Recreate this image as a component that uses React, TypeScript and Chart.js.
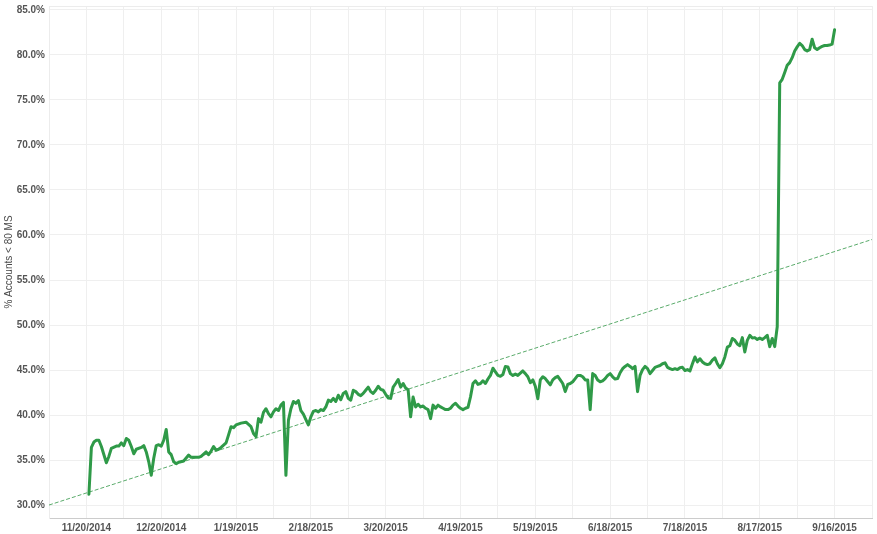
import React, { useEffect, useRef } from "react";
import { Chart, registerables } from "chart.js";

Chart.register(...registerables);

// Day offsets from 11/20/2014
const dayOffsets = [
  1, 2, 3, 4, 5, 6, 8, 9, 10, 12, 13, 14, 15, 16, 17, 18, 19, 20, 22, 23,
  24, 25, 26, 27, 28, 29, 30, 31, 32, 33, 34, 35, 36, 37, 39, 41, 42, 43, 45, 46,
  48, 49, 50, 51, 52, 53, 54, 56, 57, 58, 59, 60, 62, 64, 66, 67, 68, 69, 70, 71,
  72, 73, 74, 75, 76, 77, 78, 79, 80, 81, 82, 83, 84, 85, 86, 87, 88, 89, 90, 91,
  92, 93, 94, 95, 96, 97, 98, 99, 100, 101, 102, 103, 104, 105, 106, 107, 108, 109, 110, 111,
  112, 113, 114, 115, 116, 117, 118, 119, 120, 121, 122, 123, 124, 125, 126, 127, 128, 129, 130, 131,
  132, 133, 134, 135, 136, 137, 138, 139, 140, 141, 142, 143, 144, 145, 146, 147, 148, 149, 150, 151,
  152, 153, 154, 155, 156, 157, 158, 159, 160, 161, 162, 163, 164, 165, 166, 167, 168, 169, 170, 171,
  172, 173, 174, 175, 176, 177, 178, 179, 180, 181, 182, 183, 184, 185, 186, 187, 188, 189, 190, 191,
  192, 193, 194, 195, 196, 197, 198, 199, 200, 201, 202, 203, 204, 205, 206, 207, 208, 209, 210, 211,
  212, 213, 214, 215, 216, 217, 218, 219, 220, 221, 222, 223, 224, 225, 226, 227, 228, 229, 230, 231,
  232, 233, 234, 235, 236, 237, 238, 239, 240, 241, 242, 243, 244, 245, 246, 247, 248, 249, 250, 251,
  252, 253, 254, 255, 256, 257, 258, 259, 260, 261, 262, 263, 264, 265, 266, 267, 268, 269, 270, 271,
  272, 273, 274, 275, 276, 277, 278, 279, 280, 281, 282, 283, 284, 285, 286, 287, 288, 289, 290, 291,
  292, 293, 294, 295, 296, 297, 298, 299, 300,
];

const accountsPct = [
  31.2, 36.4, 37.0, 37.2, 37.2, 36.5, 34.7, 35.4, 36.3, 36.55, 36.55, 36.9, 36.6, 37.4, 37.2, 36.5, 35.7, 36.2, 36.4, 36.6,
  35.9, 34.8, 33.3, 35.2, 36.6, 36.7, 36.55, 37.2, 38.4, 35.9, 35.6, 34.8, 34.6, 34.75, 34.9, 35.55, 35.3, 35.3, 35.3, 35.4,
  35.9, 35.6, 36.0, 36.5, 36.1, 36.2, 36.4, 36.9, 37.8, 38.7, 38.6, 38.9, 39.1, 39.2, 38.7, 37.95, 37.6, 39.6, 39.2, 40.3,
  40.7, 40.15, 39.8, 40.35, 40.7, 40.5, 41.1, 41.4, 33.3, 39.4, 40.7, 41.5, 41.3, 41.6, 40.5, 40.1, 39.5, 38.9, 39.8, 40.4,
  40.5, 40.35, 40.6, 40.5, 40.9, 41.65, 41.5, 41.85, 41.5, 42.2, 41.7, 42.4, 42.6, 41.85, 41.65, 42.75, 42.6, 42.3, 42.15, 42.4,
  42.75, 43.1, 42.6, 42.4, 42.75, 43.2, 42.85, 42.75, 42.3, 41.9, 41.85, 43.1, 43.5, 43.95, 43.1, 43.5, 43.0, 42.8, 39.8, 42.0,
  40.9, 41.2, 40.9, 41.0, 40.75, 40.6, 39.6, 41.1, 40.75, 41.1, 40.9, 40.75, 40.6, 40.6, 40.75, 41.1, 41.3, 41.0, 40.75, 40.6,
  40.75, 40.85, 42.0, 43.5, 43.8, 43.4, 43.5, 43.8, 43.5, 44.0, 44.4, 45.2, 44.8, 44.4, 44.3, 44.5, 45.4, 45.35, 44.6, 44.4,
  44.55, 44.4, 44.65, 44.9, 44.6, 44.25, 43.6, 43.9, 43.2, 41.8, 43.9, 44.25, 44.05, 43.7, 43.35, 43.9, 44.15, 44.3, 43.9, 43.5,
  42.6, 43.4, 43.5, 43.7, 44.05, 44.4, 44.4, 44.25, 43.9, 43.9, 40.6, 44.6, 44.4, 43.9, 43.7, 43.8, 44.05, 44.4, 44.6, 44.25,
  44.0, 44.05, 44.7, 45.15, 45.4, 45.6, 45.4, 45.15, 45.4, 42.6, 44.4, 45.05, 45.4, 45.15, 44.6, 44.95, 45.3, 45.4, 45.5, 45.7,
  45.8, 45.3, 45.15, 45.05, 45.15, 45.05, 45.25, 45.3, 44.95, 45.05, 44.9, 45.7, 46.45, 45.9, 46.25, 45.9, 45.7, 45.6, 45.7, 46.1,
  46.35, 45.7, 45.25, 45.7, 46.45, 47.55, 47.7, 48.5, 48.3, 47.9, 47.7, 48.6, 47.0, 48.3, 48.85, 48.55, 48.6, 48.4, 48.55, 48.4,
  48.6, 48.85, 47.6, 48.5, 47.6, 49.8, 76.9, 77.3, 78.05, 78.85, 79.15, 79.7, 80.45, 80.9, 81.3, 81.05, 80.6, 80.45, 80.6, 81.75,
  80.8, 80.6, 80.8, 80.95, 81.05, 81.05, 81.1, 81.2, 82.8,
];

// Trend line endpoints (day offset, %)
const trendDays = [-15, 315];
const trendPct = [30.0, 59.5];

const yTickValues = [30, 35, 40, 45, 50, 55, 60, 65, 70, 75, 80, 85];
const xTickDays = [-15, 0, 15, 30, 45, 60, 75, 90, 105, 120, 135, 150, 165, 180, 195, 210, 225, 240, 255, 270, 285, 300, 315];
const labeledDays = [0, 30, 60, 90, 120, 150, 180, 210, 240, 270, 300];

const startMs = Date.UTC(2014, 10, 20);
function formatDay(offset: number): string {
  const d = new Date(startMs + offset * 86400000);
  return `${d.getUTCMonth() + 1}/${d.getUTCDate()}/${d.getUTCFullYear()}`;
}

const topBorder = {
  id: "topBorder",
  afterDraw(chart: any) {
    const { ctx, chartArea } = chart;
    ctx.save();
    ctx.strokeStyle = "#ececec";
    ctx.lineWidth = 1;
    ctx.beginPath();
    ctx.moveTo(chartArea.left, chartArea.top + 0.5);
    ctx.lineTo(chartArea.right, chartArea.top + 0.5);
    ctx.stroke();
    ctx.restore();
  },
};

export default function App() {
  const ref = useRef<HTMLCanvasElement | null>(null);

  useEffect(() => {
    if (!ref.current) return;
    const font = { family: "Arial, 'Liberation Sans', sans-serif", size: 10, weight: "bold" as const };
    const chart = new Chart(ref.current, {
      type: "line",
      data: {
        datasets: [
          {
            label: "% Accounts < 80 MS",
            data: dayOffsets.map((d, i) => ({ x: d, y: accountsPct[i] })),
            borderColor: "#2f9a48",
            borderWidth: 3,
            pointRadius: 0,
            tension: 0,
            borderJoinStyle: "round",
            borderCapStyle: "round",
            order: 1,
          },
          {
            label: "Trend",
            data: trendDays.map((d, i) => ({ x: d, y: trendPct[i] })),
            borderColor: "#5aab6b",
            borderWidth: 1,
            borderDash: [4, 2],
            pointRadius: 0,
            tension: 0,
            order: 2,
          },
        ],
      },
      options: {
        animation: false,
        responsive: false,
        layout: { padding: { left: 0, top: 6, right: 5, bottom: 0 } },
        plugins: { legend: { display: false }, tooltip: { enabled: false } },
        scales: {
          x: {
            type: "linear",
            min: -15,
            max: 315,
            afterBuildTicks: (scale: any) => {
              scale.ticks = xTickDays.map((v) => ({ value: v }));
            },
            afterFit: (scale: any) => {
              scale.height = 16;
              scale.paddingLeft = 0;
              scale.paddingRight = 0;
            },
            ticks: {
              autoSkip: false,
              maxRotation: 0,
              padding: 4,
              color: "#555555",
              font,
              callback: (v: any) => (labeledDays.includes(Number(v)) ? formatDay(Number(v)) : ""),
            },
            grid: { color: "#efefef", drawTicks: false },
            border: { color: "#cccccc" },
          },
          y: {
            min: 28.56,
            max: 85.44,
            afterBuildTicks: (scale: any) => {
              scale.ticks = yTickValues.map((v) => ({ value: v }));
            },
            afterFit: (scale: any) => {
              scale.width = 49;
              scale.paddingTop = 0;
              scale.paddingBottom = 0;
            },
            ticks: {
              padding: 4,
              color: "#555555",
              font,
              callback: (v: any) => Number(v).toFixed(1) + "%",
            },
            grid: { color: "#efefef", drawTicks: false },
            border: { color: "#ececec" },
            title: {
              display: true,
              text: "% Accounts < 80 MS",
              color: "#4a4a4a",
              font: { family: "Arial, 'Liberation Sans', sans-serif", size: 10 },
              padding: { top: 3, bottom: 0 },
            },
          },
        },
      },
      plugins: [topBorder],
    });
    return () => chart.destroy();
  }, []);

  return (
    <div style={{ position: "absolute", left: 0, top: 0, width: 877, height: 534, background: "#ffffff" }}>
      <canvas ref={ref} width={877} height={534} style={{ display: "block" }} />
    </div>
  );
}
